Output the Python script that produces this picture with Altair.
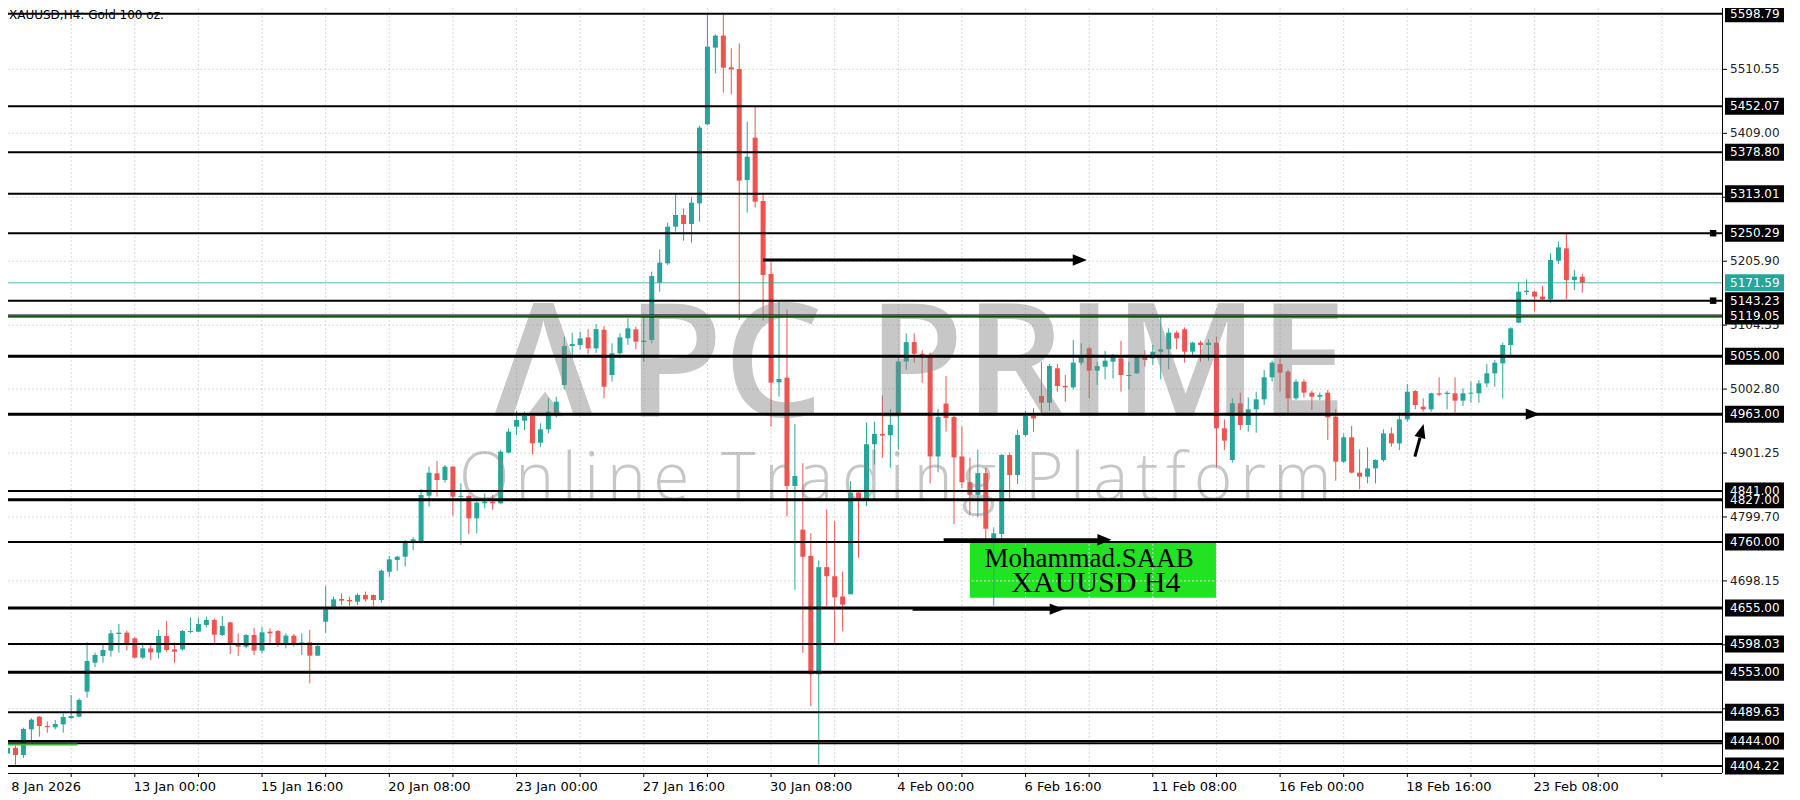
import altair as alt
import pandas as pd

# ---------------- data ----------------
opens = [4424, 4433, 4421.7, 4462.4, 4482.5, 4467.7, 4465.6, 4470.4, 4480.4, 4482.5,
         4522.3, 4568.3, 4578.9, 4587.4, 4613.8, 4616, 4607, 4576.3, 4591.1, 4584.2,
         4610.7, 4589.5, 4589.5, 4617, 4617.5, 4628.1, 4636.1, 4612.3, 4632.4, 4599,
         4593.7, 4612.3, 4587.4, 4617.5, 4618.6, 4599, 4611.2, 4599, 4600.6, 4579.4,
         4633.4, 4657.2, 4669.4, 4667.8, 4665.2, 4675.8, 4675.8, 4667.8, 4712.8, 4731.4,
         4736.6, 4758.9, 4760.5, 4833.5, 4869, 4858.4, 4879.6, 4831.9, 4833, 4797.5,
         4821.4, 4824, 4821.4, 4901.8, 4943.1, 4952.6, 4960, 4917.7, 4938.9, 4965.3,
         5009.3, 5071.2, 5072.8, 5085, 5067.5, 5097, 5025.2, 5059.6, 5083.4, 5097.7,
         5077.6, 5080.8, 5171.8, 5202.5, 5260.7, 5279.3, 5265, 5297.8, 5423.3, 5545,
         5564.1, 5513.8, 5511.1, 5334.8, 5402.1, 5301.5, 5185.6, 5013.5, 5020.9, 4848.9,
         4779.6, 4738, 4549.9, 4720, 4705.6, 4673.4, 4677, 4838.4, 4826.3, 4915.2,
         4931.7, 4929.6, 4964, 5046.6, 5077.4, 5058.8, 5057.3, 4895.8, 4979.8, 4958.3,
         4895.8, 4854.9, 4834.9, 4869.3, 4765.8, 4772.6, 4898.1, 4866.4, 4929.9, 4960,
         4991.8, 4981.2, 5035.8, 5007.7, 5005.6, 5044.8, 5067.5, 5032.1, 5038.4, 5046.3,
         5051.6, 5023.6, 5027.8, 5055.4, 5051.6, 5062.2, 5065.9, 5092.4, 5097.7, 5062.2,
         5076.5, 5072.8, 5076.5, 4940.5, 4890.2, 4980.2, 4945.8, 4970.6, 4986.5, 5021.5,
         5042.6, 5030.5, 4988.1, 5014.6, 4997.1, 4990.7, 4997.1, 4959, 4887.5, 4926.2,
         4870.1, 4863.7, 4876.9, 4890.2, 4932.5, 4916.6, 4954.7, 4999.7, 4974.8, 4970.6,
         4996.1, 4995, 4996.1, 4984.4, 4995.6, 4996.1, 5011.9, 5027.8, 5043.7, 5072.8,
         5108.3, 5157, 5157.5, 5149.6, 5145.3, 5206.7, 5226.3, 5176, 5181.3]
highs = [4435, 4436.5, 4465, 4479.9, 4483.6, 4475, 4477.3, 4487.8, 4517, 4511.7,
         4600.6, 4584.2, 4596.4, 4620.2, 4629.7, 4619.1, 4608.6, 4600.1, 4600, 4620.2,
         4634.5, 4600, 4620.2, 4639.8, 4639.8, 4641.4, 4638.7, 4642.4, 4633.4, 4614.9,
         4613.8, 4623.9, 4625.5, 4622.9, 4620.2, 4614.9, 4613.8, 4614.9, 4620.2, 4596.4,
         4690, 4673.1, 4678.4, 4673.1, 4678.4, 4681.1, 4676.8, 4716.5, 4737.7, 4737.7,
         4763.1, 4767.4, 4843.6, 4879.6, 4888.6, 4882.2, 4880.6, 4853.1, 4834.6, 4824,
         4837.2, 4834.6, 4906, 4940.5, 4968, 4966.9, 4961.6, 4948.4, 4988.1, 4990.7,
         5086, 5092.4, 5094, 5098, 5106, 5103, 5075.4, 5091.3, 5115.2, 5101.9,
         5117.8, 5189.3, 5224.7, 5267.1, 5313.7, 5289.8, 5307.3, 5421.1, 5598.5, 5566.2,
         5596.9, 5544, 5551.9, 5427.5, 5452.4, 5313.7, 5205.2, 5144.3, 5129.4, 4947.3,
         4885.1, 4773.8, 4730.8, 4811.9, 4793.2, 4712.8, 4856.4, 4842, 4949.7, 4951.1,
         4992.7, 4971.2, 5053.8, 5091.1, 5091.1, 5064.5, 5060.9, 4971.2, 5023.6, 4960.4,
         4943.9, 4893.7, 4906.6, 4877.9, 4783.2, 4899.7, 4901.8, 4937.8, 4968.5, 4972.2,
         5046.3, 5042.6, 5042.6, 5025.2, 5080.8, 5075.5, 5070.2, 5046.3, 5063.3, 5058.5,
         5079.2, 5046.3, 5056.9, 5064.9, 5072.8, 5117.8, 5099.3, 5095.6, 5100.9, 5078.1,
         5079.7, 5081.8, 5086, 4954.8, 4988.1, 4997.1, 4989.7, 4998.7, 5033.1, 5047.9,
         5051.6, 5033.1, 5018.3, 5018.3, 5000.3, 4997.1, 5001.3, 4970.6, 4932.5, 4944.2,
         4907.1, 4910.3, 4891.2, 4938.9, 4942, 4965.3, 5010.9, 5001.3, 4988.1, 4997.1,
         5021.4, 5000, 5021.4, 5004, 5014.6, 5017.2, 5042.6, 5049, 5076.5, 5100.9,
         5171.8, 5177.1, 5159.1, 5166.5, 5218.4, 5236.9, 5249.1, 5191.9, 5185.6]
lows = [4422, 4405.8, 4417, 4445.5, 4450.8, 4457, 4462.4, 4457.1, 4478.3, 4481.5,
        4512.7, 4560.9, 4568.3, 4577.8, 4584.2, 4587.4, 4574.7, 4574.1, 4572.5, 4575.2,
        4585.8, 4568.3, 4587.4, 4614.9, 4617.5, 4624.4, 4599, 4610.7, 4582.1, 4578.9,
        4591.1, 4580.5, 4583.1, 4599, 4593.7, 4591.1, 4593.7, 4580.5, 4535.5, 4578.9,
        4616, 4654.6, 4659.9, 4658.3, 4659.9, 4665.2, 4658.3, 4663.6, 4704.9, 4714.4,
        4720.8, 4747.2, 4757.8, 4816, 4831.9, 4854.2, 4801.7, 4755.2, 4772.6, 4773.7,
        4813.4, 4810.8, 4819.8, 4900.8, 4929.9, 4937.8, 4899.2, 4911.3, 4932.5, 4957.9,
        5002.4, 5051.6, 5065.9, 5058.5, 5060, 4988.1, 5014.6, 5051.6, 5072.8, 5065.9,
        5046.3, 5075.5, 5157.5, 5199.9, 5252.8, 5238.5, 5235.3, 5268.7, 5422.2, 5504.2,
        5473.5, 5470.9, 5112.5, 5283, 5291.4, 5111.5, 4943.1, 4990.8, 4800.4, 4684.1,
        4583.7, 4499, 4402, 4656.9, 4596.6, 4618.1, 4677, 4735, 4817, 4883,
        4893.7, 4877.9, 4906.6, 5033.7, 5044.4, 5012.8, 4852.8, 4870.7, 4935.3, 4788.2,
        4845.6, 4802.6, 4799, 4761.6, 4659, 4765.8, 4824, 4852.1, 4927.2, 4935.2,
        4961.6, 4968.5, 4998.7, 4982.8, 5002.4, 5041.1, 4988.1, 5009.3, 5018.3, 5019.9,
        4998.7, 5002.4, 5026.8, 5038.4, 5041.1, 5018.3, 5034.2, 5065.9, 5044.8, 5054.3,
        5046.3, 5047.9, 4878.5, 4906.1, 4885.9, 4937.8, 4935.2, 4933.6, 4977.5, 5014.6,
        4998.7, 4965.3, 4985.5, 4989.7, 4969.6, 4985.4, 4921.9, 4857.3, 4884.9, 4869,
        4843.6, 4853.1, 4853.1, 4887.5, 4911.3, 4906, 4951, 4970.6, 4966.9, 4966.9,
        4991.8, 4970.6, 4965.3, 4976, 4981.2, 4981.2, 5005.6, 5006.6, 4988.1, 5056.9,
        5107.2, 5152.2, 5125.7, 5144.3, 5140, 5201.4, 5145.3, 5160.2, 5155.9]
closes = [4433, 4421.7, 4463, 4477.8, 4467.7, 4466, 4470.9, 4482, 4483.6, 4509,
          4571, 4580.5, 4588.4, 4614.9, 4616, 4599, 4576.3, 4591.1, 4584.7, 4610.7,
          4588.4, 4585.8, 4618.6, 4618.6, 4629.7, 4636.1, 4612.8, 4626.5, 4599, 4593.7,
          4612.3, 4587.4, 4616.5, 4614.9, 4599, 4611.2, 4599, 4600.6, 4579.4, 4594.8,
          4653, 4668.9, 4666.8, 4665.7, 4675.8, 4668.9, 4667.8, 4714.4, 4732.4, 4736.6,
          4760.5, 4764.2, 4834.6, 4870.1, 4858.4, 4879.6, 4831.9, 4833, 4797.5, 4822.4,
          4824, 4821.4, 4903.4, 4935.2, 4953.7, 4960, 4916.6, 4938.9, 4966.9, 4982.8,
          5071.2, 5074.4, 5083.4, 5067.5, 5098, 5006.6, 5059.6, 5085, 5099.3, 5078.1,
          5079.7, 5182.4, 5203.6, 5260.7, 5279.3, 5265, 5298.8, 5418, 5546.6, 5564.1,
          5513.2, 5510.6, 5333.8, 5371.9, 5300.4, 5184, 5013, 5018.8, 4848.9, 4864.8,
          4736.5, 4549.9, 4720, 4705.6, 4672, 4660.5, 4838.4, 4826.3, 4915.2, 4931.7,
          4929, 4946.1, 5046.6, 5077.4, 5058.8, 5055.9, 4895.8, 4958.3, 4956.8, 4894.4,
          4854.9, 4834.9, 4869.3, 4781, 4773.7, 4898.1, 4866.4, 4929.9, 4960, 4956.3,
          4981.2, 5039.5, 5007.7, 5005.6, 5044.8, 5056.9, 5032.1, 5039.5, 5047.9, 5053.2,
          5025.2, 5025.2, 5054.3, 5049, 5062.2, 5065.9, 5092.4, 5083.4, 5062.2, 5076.5,
          5072.8, 5076.5, 4940.5, 4920.9, 4980.2, 4945.8, 4970.6, 4986.5, 5021.5, 5044.8,
          5028.9, 4988.1, 5014.6, 4997.1, 4990.7, 4993.4, 4957.9, 4887.5, 4926.2, 4870.1,
          4863.7, 4876.9, 4890.2, 4932.5, 4916.6, 4954.7, 4998.7, 4977.5, 4970.6, 4996.1,
          4994, 4997, 4984.4, 4996.1, 4997.1, 5011.9, 5027.8, 5044.7, 5072.8, 5099.3,
          5157.5, 5159, 5149.6, 5145.3, 5207.8, 5227.9, 5176, 5181.3, 5171.6]

x_tick_bars = [0, 16, 32, 48, 64, 80, 96, 112, 128, 144, 160, 176, 192]
x_tick_labels = ["8 Jan 2026", "13 Jan 00:00", "15 Jan 16:00", "20 Jan 08:00",
                 "23 Jan 00:00", "27 Jan 16:00", "30 Jan 08:00", "4 Feb 00:00",
                 "6 Feb 16:00", "11 Feb 08:00", "16 Feb 00:00", "18 Feb 16:00",
                 "23 Feb 08:00"]
y_tick_values = [5510.55, 5409.00, 5307.45, 5205.90, 5104.35, 5002.80, 4901.25,
                 4799.70, 4698.15, 4596.60, 4495.05]

level_prices = [5598.79, 5452.07, 5378.80, 5313.01, 5250.29, 5143.23, 5119.05,
                5055.00, 4963.00, 4827.00, 4841.00, 4760.00, 4655.00, 4598.03,
                4553.00, 4489.63, 4444.00, 4404.22]
level_widths = [2, 2, 2, 2, 2, 2, 3, 3, 3, 3, 2, 2, 3, 2, 3, 2, 2, 2]
last_price = 5171.59

arrow_from_bar = [95.0, 117.7, 113.8]
arrow_to_bar = [135.7, 138.8, 132.8]
arrow_price = [5207.8, 4763.5, 4653.3]

# ---------------- styling ----------------
W, H = 1714, 765
X_DOM = [0.6875, 0.6875 + W / 8.0]
Y_DOM = [4393.1, 5608.0]
TEAL, RED = "#26a69a", "#ef5350"
FONT = "DejaVu Sans"
WM_COLOR, WM_OP = "#858585", 0.45

xs = alt.Scale(domain=X_DOM, nice=False, zero=False)
ys = alt.Scale(domain=Y_DOM, nice=False, zero=False)


def X(f):
    return alt.X(f, type="quantitative", scale=xs, axis=None)


def Y(f):
    return alt.Y(f, type="quantitative", scale=ys, axis=None)


# candles
rows = []
for i, (o, h, l, c) in enumerate(zip(opens, highs, lows, closes)):
    top, bot = max(o, c), min(o, c)
    if top - bot < 1.6:
        mid = (top + bot) / 2
        top, bot = mid + 0.8, mid - 0.8
    rows.append(dict(i=i, o=o, h=h, l=l, c=c, top=top, bot=bot,
                     d="up" if c >= o else "down"))
cdf = pd.DataFrame(rows)
col = alt.Color("d:N", scale=alt.Scale(domain=["up", "down"], range=[TEAL, RED]), legend=None)

# green label box
box_df = pd.DataFrame([dict(x0=121.0, x1=151.95, y0=4758.8, y1=4671.5)])
box = alt.Chart(box_df).mark_rect(color="#22e322").encode(
    x=X("x0"), x2="x1", y=Y("y0"), y2="y1")

# grid
vgrid = alt.Chart(pd.DataFrame({"g": list(range(8, 215, 8))})).mark_rule(
    color="#d9d9d9", strokeDash=[2, 2], strokeWidth=1).encode(
    x=X("g"), y=alt.value(0), y2=alt.value(H))
hgrid = alt.Chart(pd.DataFrame({"v": y_tick_values})).mark_rule(
    color="#d9d9d9", strokeDash=[2, 2], strokeWidth=1).encode(
    y=Y("v"), x=alt.value(0), x2=alt.value(W))

wicks = alt.Chart(cdf).mark_rule(strokeWidth=1).encode(x=X("i"), y=Y("l"), y2="h", color=col)
bodies = alt.Chart(cdf).mark_bar(size=5).encode(x=X("i"), y=Y("bot"), y2="top", color=col)

# watermark: big logo words (pixel positions of a screen-fixed logo)
wm_big = pd.DataFrame([
    dict(t="Λ", x=486),
    dict(t="PC", x=618),
    dict(t="PRIME", x=859),
])
wm_big_layer = alt.Chart(wm_big).mark_text(
    align="left", baseline="alphabetic", font="Open Sans", fontSize=158,
    fontWeight=600, color=WM_COLOR, opacity=WM_OP
).encode(x=alt.X("x:Q", scale=None), y=alt.value(408), text="t:N")
wm_tri = alt.Chart(pd.DataFrame({"k": [0]})).mark_point(
    shape="M0,-0.65L1,0.65L-1,0.65Z", size=1400, filled=True, color=WM_COLOR,
    opacity=WM_OP).encode(x=alt.value(537), y=alt.value(396))

# watermark: "Online Trading Platform" with wide letter spacing
adv = {"O": .74, "n": .59, "l": .23, "i": .23, "e": .54, "T": .52, "r": .38, "a": .53,
       "d": .59, "g": .52, "P": .56, "t": .33, "f": .30, "o": .58, "m": .89}
WM_FS = 66
wm_words = [("Online", 451, 681), ("Trading", 713, 988), ("Platform", 1017, 1324)]
ch_rows = []
for word, x0, x1 in wm_words:
    total = sum(adv[ch] for ch in word) * WM_FS
    sp = (x1 - x0 - total) / (len(word) - 1)
    x = x0
    for ch in word:
        ch_rows.append(dict(t=ch, x=x))
        x += adv[ch] * WM_FS + sp
wm_small = alt.Chart(pd.DataFrame(ch_rows)).mark_text(
    align="left", baseline="alphabetic", font="Open Sans", fontSize=WM_FS,
    fontWeight=300, color=WM_COLOR, opacity=WM_OP
).encode(x=alt.X("x:Q", scale=None), y=alt.value(492), text="t:N")

# level lines
lvl_df = pd.DataFrame({"p": level_prices, "w": level_widths})
levels = alt.Chart(lvl_df).mark_rule(color="black").encode(
    y=Y("p"), x=alt.value(0), x2=alt.value(W),
    strokeWidth=alt.StrokeWidth("w:Q", scale=None))
extra_black = alt.Chart(pd.DataFrame({"p": [4440.3]})).mark_rule(
    color="black", strokeWidth=2).encode(y=Y("p"), x=alt.value(0), x2=alt.value(W))
green_full = alt.Chart(pd.DataFrame({"p": [5119.05]})).mark_rule(
    color="#3cc43c", strokeWidth=1).encode(y=Y("p"), x=alt.value(0), x2=alt.value(W))
green_short = alt.Chart(pd.DataFrame({"p": [4438.3], "a": [0.0], "b": [8.8]})).mark_rule(
    color="#3cb43c", strokeWidth=2).encode(y=Y("p"), x=X("a"), x2="b")
last_line = alt.Chart(pd.DataFrame({"p": [last_price]})).mark_rule(
    color=TEAL, strokeWidth=1, opacity=0.8).encode(y=Y("p"), x=alt.value(0), x2=alt.value(W))
squares = alt.Chart(pd.DataFrame({"i": [214.45, 214.45], "p": [5250.29, 5143.23]})).mark_square(
    size=42, color="black", filled=True, opacity=1).encode(x=X("i"), y=Y("p"))

# arrows
arr_df = pd.DataFrame({"a": arrow_from_bar, "b": [t - 1.0 for t in arrow_to_bar],
                       "p": arrow_price})
shafts = alt.Chart(arr_df).mark_rule(color="black", strokeWidth=3).encode(
    y=Y("p"), x=X("a"), x2="b")
head_df = pd.DataFrame({"tip": arrow_to_bar + [192.66], "p": arrow_price + [4963.0]})
heads = alt.Chart(head_df).mark_point(
    shape="M-1,-0.8L1,0L-1,0.8Z", size=200, filled=True, color="black", opacity=1,
    xOffset=-7).encode(x=X("tip"), y=Y("p"))
up_shaft = alt.Chart(pd.DataFrame({"x": [176.95, 177.6], "p": [4895.4, 4925.7]})).mark_line(
    color="black", strokeWidth=3).encode(x=X("x"), y=Y("p"))
up_head = alt.Chart(pd.DataFrame({"x": [178.04], "p": [4947.4]})).mark_point(
    shape="M0,-1L0.8,1L-0.8,1Z", size=196, filled=True, color="black", opacity=1,
    angle=15, xOffset=-1.8, yOffset=6.8).encode(x=X("x"), y=Y("p"))

# text in green box
bt_df = pd.DataFrame([dict(t="Mohammad.SAAB", x=136.0, p=4720.7, fs=27),
                      dict(t="XAUUSD H4", x=136.85, p=4681.0, fs=30)])
box_texts = [alt.Chart(pd.DataFrame([r])).mark_text(
    align="center", baseline="alphabetic", font="Liberation Serif",
    fontSize=float(r.fs), color="black").encode(x=X("x"), y=Y("p"), text="t:N")
    for _, r in bt_df.iterrows()]

# axes
frame_r = alt.Chart(pd.DataFrame({"k": [0]})).mark_rule(color="black", strokeWidth=1).encode(
    x=alt.value(W + 0.5), y=alt.value(0), y2=alt.value(H))
frame_b = alt.Chart(pd.DataFrame({"k": [0]})).mark_rule(color="black", strokeWidth=1).encode(
    y=alt.value(H + 0.5), x=alt.value(0), x2=alt.value(W))

yt_df = pd.DataFrame({"v": y_tick_values, "t": [f"{v:.2f}" for v in y_tick_values]})
ytick = alt.Chart(yt_df).mark_rule(color="black").encode(
    y=Y("v"), x=alt.value(W), x2=alt.value(W + 5))
ylab = alt.Chart(yt_df).mark_text(align="left", baseline="middle", font=FONT,
                                  fontSize=12, color="#222").encode(
    y=Y("v"), x=alt.value(W + 8), text="t:N")

pb_df = pd.DataFrame({"p": level_prices, "t": [f"{v:.2f}" for v in level_prices]})
pboxes = alt.Chart(pb_df).mark_rect(color="black", yOffset=-8.5, y2Offset=8.5).encode(
    y=Y("p"), y2="p", x=alt.value(W + 3), x2=alt.value(W + 62))
ptexts = alt.Chart(pb_df).mark_text(align="left", baseline="middle", font=FONT,
                                    fontSize=12, color="white").encode(
    y=Y("p"), x=alt.value(W + 8), text="t:N")
last_df = pd.DataFrame({"p": [last_price], "t": [f"{last_price:.2f}"]})
lbox = alt.Chart(last_df).mark_rect(color=TEAL, yOffset=-8.5, y2Offset=8.5).encode(
    y=Y("p"), y2="p", x=alt.value(W + 3), x2=alt.value(W + 62))
ltext = alt.Chart(last_df).mark_text(align="left", baseline="middle", font=FONT,
                                     fontSize=12, color="white").encode(
    y=Y("p"), x=alt.value(W + 8), text="t:N")

xt_df = pd.DataFrame({"g": list(range(0, 215, 8))})
xtick = alt.Chart(xt_df).mark_rule(color="black").encode(
    x=X("g"), y=alt.value(H), y2=alt.value(H + 4))
xl_df = pd.DataFrame({"b": x_tick_bars, "t": x_tick_labels})
xlab = alt.Chart(xl_df).transform_calculate(
    lx="max(datum.b, 0.6)").mark_text(
    align="left", baseline="middle", font=FONT, fontSize=13, color="black", dx=-1).encode(
    x=X("lx"), y=alt.value(H + 13.5), text="t:N")

title = alt.Chart(pd.DataFrame({"t": ["XAUUSD,H4:  Gold 100 oz."]})).mark_text(
    align="left", baseline="middle", font=FONT, fontSize=12, color="black").encode(
    x=alt.value(1), y=alt.value(7), text="t:N")

chart = alt.layer(
    box, vgrid, hgrid, wicks, bodies, wm_big_layer, wm_tri, wm_small,
    levels, extra_black, green_full, green_short, last_line, squares,
    shafts, heads, up_shaft, up_head, *box_texts,
    frame_r, frame_b, ytick, ylab, pboxes, ptexts, lbox, ltext, xtick, xlab, title
).properties(
    width=W, height=H,
    padding={"left": 0, "top": 0, "right": 70, "bottom": 21},
    autosize=alt.AutoSizeParams(type="none"),
    background="white",
).configure_view(stroke=None)

chart.save("out.html", embed_options={"renderer": "svg", "actions": False})
